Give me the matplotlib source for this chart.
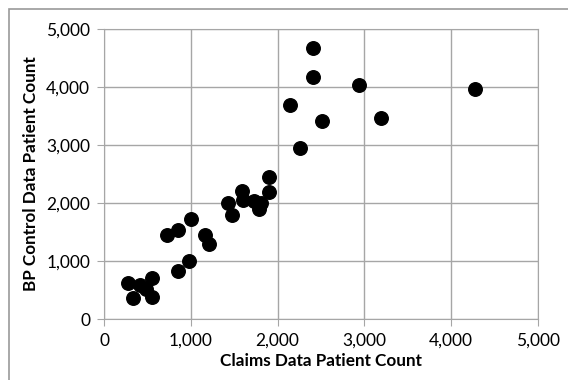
import matplotlib.pyplot as plt
from matplotlib.patches import Rectangle
from matplotlib.ticker import FuncFormatter

claims = [2410, 2410, 2940, 4274, 2148, 2515, 3194, 2260, 1897, 1897,
          1593, 1605, 1430, 1480, 1730, 1806, 1785, 1001, 730, 847,
          1168, 1209, 980, 855, 276, 415, 553, 334, 553, 480]
bp_control = [4677, 4176, 4032, 3957, 3687, 3416, 3473, 2949, 2448, 2189,
              2206, 2045, 2005, 1786, 2028, 2005, 1901, 1722, 1452, 1527,
              1452, 1296, 997, 835, 621, 586, 707, 362, 379, 520]
ticks = [0, 1000, 2000, 3000, 4000, 5000]

plt.rcParams['font.family'] = ['Lato', 'DejaVu Sans']

fig = plt.figure(figsize=(5.68, 3.8), dpi=100)
fig.patches.append(Rectangle((9 / 568, -0.1), 1.2, 1 - 9 / 380 + 0.1,
                             transform=fig.transFigure, fill=False,
                             edgecolor='#999999', linewidth=1.2))
ax = fig.add_axes([104 / 568, 1 - 319 / 380, (538 - 104) / 568, (319 - 29) / 380])

ax.scatter(claims, bp_control, s=95, color='black', zorder=3)

ax.set_xlim(0, 5000)
ax.set_ylim(0, 5000)
ax.set_xticks(ticks)
ax.set_yticks(ticks)
fmt = FuncFormatter(lambda v, p: "{:,.0f}".format(v))
ax.xaxis.set_major_formatter(fmt)
ax.yaxis.set_major_formatter(fmt)
ax.grid(True, color='#a6a6a6', linewidth=1)
ax.set_axisbelow(True)
for s in ax.spines.values():
    s.set_color('#a6a6a6')
ax.tick_params(direction='out', length=5, color='#a6a6a6', labelsize=12.5,
               labelcolor='black', pad=5)

ax.set_xlabel("Claims Data Patient Count", fontsize=12.3, fontweight='bold', labelpad=3)
ax.set_ylabel("BP Control Data Patient Count", fontsize=12.3, fontweight='bold', labelpad=5)

fig.savefig("out.png", dpi=100)
plt.close()
